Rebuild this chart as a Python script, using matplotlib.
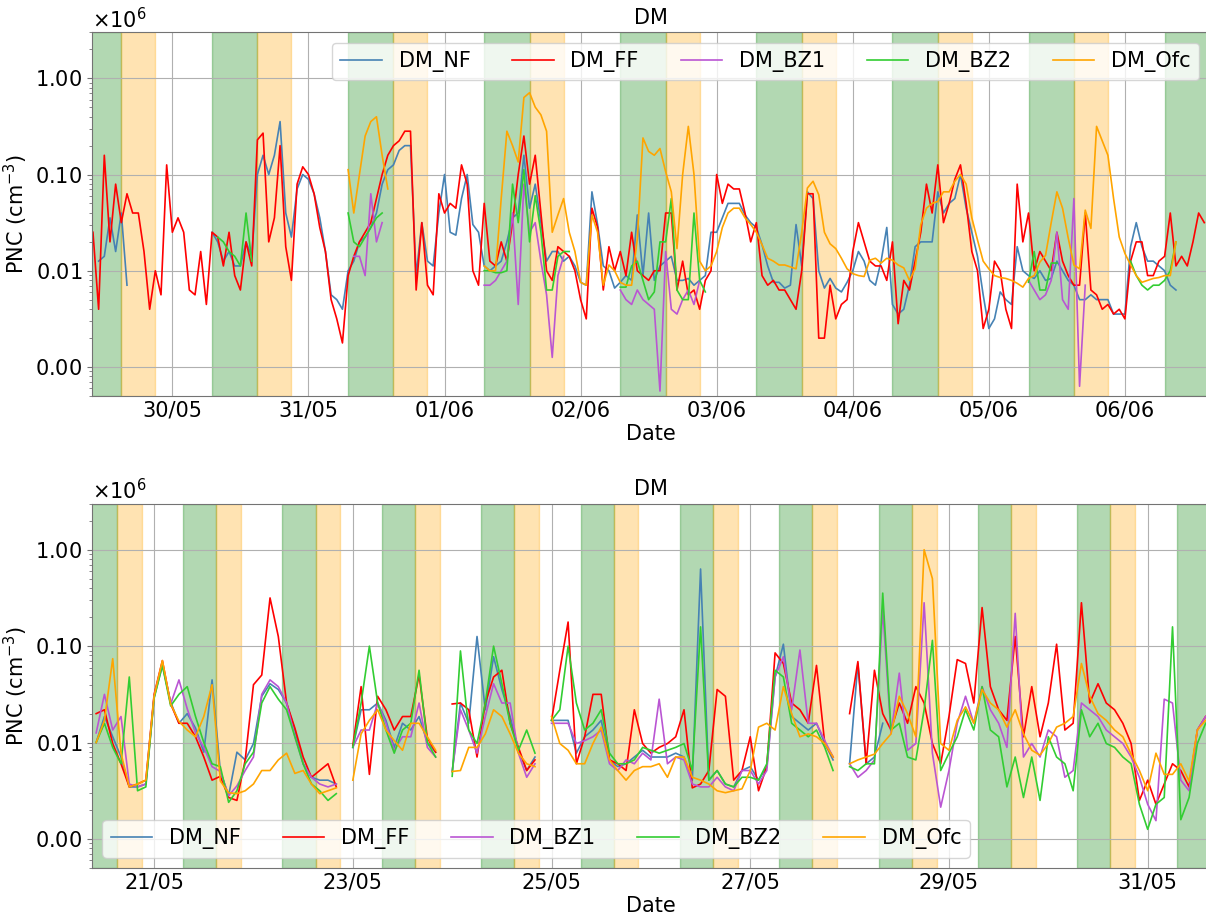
import numpy as np
import pandas as pd
import matplotlib
matplotlib.use("Agg")
import matplotlib.pyplot as plt
import matplotlib.dates as mdates
from matplotlib.ticker import ScalarFormatter

N = None

# ---- upper panel: hourly log10(PNC) from 29/05 10:00 to 06/06 14:00 ----
top_start, top_end = "2021-05-29 10:00", "2021-06-06 14:00"

top_ff = (
    [4.4, 3.6, 5.2, 4.3, 4.9, 4.5, 4.8, 4.6, 4.6, 4.2, 3.6, 4.0, 3.75, 5.1]
    + [4.4, 4.55, 4.4, 3.8, 3.75, 4.2, 3.65, 4.4, 4.35, 4.05, 4.4, 3.95,
       3.8, 4.3, 4.05, 5.36, 5.43, 4.3, 4.55, 5.3, 4.25, 3.9, 4.9, 5.08]
    + [5.0, 4.8, 4.45, 4.2, 3.7, 3.5, 3.25, 3.95, 4.15, 4.3, 4.4, 4.5,
       4.75, 5.0, 5.2, 5.3, 5.35, 5.45, 5.45, 3.8, 4.5, 3.85, 3.75, 4.8]
    + [4.6, 4.7, 4.65, 5.1, 4.9, 4.0, 3.85, 4.7, 4.1, 4.05, 4.3, 4.1,
       4.5, 5.0, 5.4, 4.9, 5.2, 4.6, 4.0, 3.9, 4.25, 4.2, 4.15, 4.0]
    + [3.7, 3.5, 4.65, 4.45, 3.8, 4.25, 4.0, 4.2, 3.95, 4.4, 4.0, 3.95,
       3.9, 4.0, 4.0, 4.6, 4.6, 3.8, 4.1, 3.75, 3.8, 3.6, 3.9, 4.0]
    + [5.0, 4.7, 4.9, 4.85, 4.85, 4.6, 4.3, 4.5, 3.95, 3.85, 3.9, 3.8,
       3.8, 3.7, 3.6, 4.0, 4.8, 4.8, 3.3, 3.3, 3.85, 3.5, 3.65, 3.7]
    + [4.2, 4.5, 4.3, 4.1, 4.05, 4.05, 3.9, 4.3, 3.45, 3.9, 3.8, 4.1,
       4.4, 4.9, 4.6, 5.1, 4.5, 4.7, 4.95, 5.1, 4.7, 4.2, 4.0, 3.4]
    + [3.6, 4.1, 4.0, 3.6, 3.4, 4.9, 4.3, 4.6, 4.0, 4.2, 4.1, 4.0,
       4.4, 4.1, 3.95, 3.85, 3.85, 4.6, 3.8, 3.75, 3.6, 3.65, 3.55, 3.6]
    + [3.5, 4.1, 4.3, 4.3, 3.95, 3.95, 4.1, 4.15, 4.6, 4.05, 4.15, 4.05, 4.3, 4.6, 4.5]
)

top_nf = (
    [N, 4.1, 4.15, 4.55, 4.2, 4.6, 3.85, N, N, N, N, N, N, N]
    + [N] * 7 + [4.4, 4.3, 4.1, 4.2, 4.05, 4.05, 4.3, 4.15, 5.0, 5.2, 5.0,
                 5.2, 5.55, 4.6, 4.35, 4.85, 5.0]
    + [4.95, 4.8, 4.55, 4.2, 3.75, 3.7, 3.6, 4.0, 4.1, 4.3, 4.35, 4.45,
       4.6, 4.9, 5.05, 5.1, 5.25, 5.3, 5.3, 3.95, 4.5, 4.1, 4.05, 4.6]
    + [5.0, 4.4, 4.37, 4.75, 5.0, 4.48, 4.4, 4.05, 4.0, 4.05, 4.1, 4.3,
       4.55, 4.6, 5.2, 4.65, 4.9, 4.5, 4.1, 4.2, 4.2, 4.1, 4.15, 4.05]
    + [3.88, 3.85, 4.82, 4.48, 4.05, 4.0, 3.82, 3.88, 3.95, 3.9, 4.58, 3.95,
       4.6, 3.9, 4.05, 4.1, 4.15, 3.9, 3.9, 3.92, 3.85, 3.9, 3.95, 4.4]
    + [4.4, 4.55, 4.7, 4.7, 4.7, 4.58, 4.5, 4.45, 4.27, 4.05, 3.88, 3.88,
       3.82, 3.85, 4.48, 4.05, 4.82, 4.75, 4.0, 3.82, 3.92, 3.82, 3.78, 3.88]
    + [4.0, 4.2, 4.1, 3.9, 3.85, 4.1, 4.45, 3.65, 3.55, 3.6, 3.85, 4.25,
       4.3, 4.3, 4.3, 4.82, 4.6, 4.7, 4.75, 5.0, 4.65, 4.4, 4.15, 3.75]
    + [3.4, 3.5, 3.78, 3.7, 3.65, 4.25, 4.0, 3.95, 3.92, 4.0, 3.9, 3.92,
       4.1, 4.0, 3.9, 3.85, 3.7, 3.7, 3.75, 3.7, 3.7, 3.7, 3.55, 3.55]
    + [3.55, 4.25, 4.5, 4.25, 4.1, 4.1, 4.05, 4.0, 3.85, 3.8, N, N, N, N, N]
)

top_bz1 = (
    [N] * 14 + [N] * 24
    + [N] * 8 + [4.15, 4.15, 3.95, 4.8, 4.3, 4.5] + [N] * 10
    + [N] * 7 + [3.85, 3.85, 3.9, 4.0, 4.1, 4.6, 3.65, 4.9, 4.4, 4.5, 4.1,
                 3.75, 3.1, 3.95, 4.15] + [N] * 2
    + [N] * 7 + [3.8, 3.7, 3.65, 3.8, 3.7, 3.65, 3.6, 2.75, 4.2, 3.6, 3.55,
                 3.7, 3.8, 3.65, 3.9] + [N] * 2
    + [N] * 24 + [N] * 24
    + [N] * 7 + [3.9, 3.8, 3.7, 3.75, 3.9, 4.4, 3.7, 3.6, 4.75, 2.8, 3.85] + [N] * 6
    + [N] * 15
)

top_bz2 = (
    [N] * 14
    + [N] * 8 + [4.35, 4.3, 4.2, 4.15, 4.05, 4.6, 4.1] + [N] * 9
    + [N] * 7 + [4.6, 4.3, 4.25, 4.35, 4.45, 4.55, 4.6] + [N] * 10
    + [N] * 7 + [4.0, 4.0, 3.98, 3.98, 4.0, 4.9, 4.5, 5.05, 4.3, 4.78, 4.4,
                 3.8, 3.8, 4.15, 4.2, 4.2, N]
    + [N] * 7 + [3.83, 3.83, 4.05, 4.1, 3.9, 3.7, 3.78, 4.3, 4.3, 4.75, 3.8,
                 3.7, 3.7, 4.6, 3.9, 3.78, N]
    + [N] * 24 + [N] * 24
    + [N] * 7 + [3.88, 4.2, 3.8, 3.8, 4.08, 4.08] + [N] * 11
    + [N, 4.1, 3.95, 3.85, 3.8, 3.85, 3.85, 3.9, 4.0, 4.3, N, N, N, N, N]
)

top_ofc = (
    [N] * 14 + [N] * 24
    + [N] * 7 + [5.05, 4.6, 5.0, 5.4, 5.55, 5.6, 5.2, 4.85] + [N] * 9
    + [N] * 7 + [4.05, 4.0, 4.0, 4.75, 5.45, 5.3, 5.13, 5.8, 5.85, 5.7, 5.62,
                 5.45, 4.4, 4.58, 4.75, 4.4, 4.2]
    + [3.88, 3.85, 4.58, 4.4, 3.85, 4.06, 4.0, 3.88, 3.85, 3.85, 4.33, 5.38,
       5.24, 5.2, 5.27, 5.03, 4.82, 4.23, 5.0, 5.5, 5.0, 4.1, 4.0, 4.05]
    + [4.2, 4.45, 4.6, 4.65, 4.65, 4.55, 4.48, 4.4, 4.27, 4.13, 4.1, 4.06,
       4.06, 4.04, 4.02, 4.4, 4.86, 4.93, 4.79, 4.4, 4.28, 4.23, 4.13, 4.02]
    + [3.97, 3.95, 3.94, 4.11, 4.13, 4.08, 4.13, 4.11, 4.06, 4.03, 3.9, 4.02,
       4.48, 4.65, 4.7, 4.72, 4.82, 4.82, 4.93, 5.0, 4.9, 4.55, 4.32, 4.1]
    + [4.02, 3.95, 3.93, 3.92, 3.9, 3.87, 3.83, 3.92, 3.95, 4.09, 4.16, 4.5,
       4.82, 4.65, 4.34, 4.06, 4.02, 4.63, 4.44, 5.5, 5.35, 5.2, 4.75, 4.35]
    + [4.18, 4.06, 3.95, 3.88, 3.9, 3.92, 3.93, 3.95, 3.95, 4.3, N, N, N, N, N]
)

# ---- lower panel: 2-hourly log10(PNC) from 20/05 10:00 to 31/05 14:00 ----
bot_start, bot_end = "2021-05-20 10:00", "2021-05-31 14:00"

bot_ff = (
    [4.3, 4.34, 3.99, 3.78, 3.54, 3.57, 3.61]
    + [4.5, 4.85, 4.4, 4.2, 4.2, 4.06, 3.85, 3.61, 3.65, 3.43, 3.4, 3.82]
    + [4.6, 4.7, 5.5, 5.1, 4.41, 4.15, 3.85, 3.64, 3.71, 3.78, 3.54, N]
    + [3.97, 4.58, 3.67, 4.48, 4.34, 4.13, 4.27, 4.27, 4.7, 4.05, 3.9, N]
    + [4.4, 4.41, 4.34, 3.85, 4.41, 4.68, 4.75, 4.2, 3.95, 3.71, 3.82, N]
    + [4.23, 4.75, 5.25, 3.78, 4.06, 4.5, 4.5, 3.82, 3.78, 3.71, 4.34, 3.99]
    + [3.89, 3.95, 3.99, 4.06, 4.34, 3.53, 3.57, 3.71, 4.55, 4.48, 3.61, 3.71]
    + [4.06, 3.5, 3.75, 4.93, 4.82, 4.41, 4.34, 4.2, 4.8, 3.99, 3.85, N]
    + [4.3, 4.84, 3.78, 4.75, 4.3, 4.13, 4.41, 4.2, 4.58, 4.41, 3.99, 3.78]
    + [4.27, 4.86, 4.82, 4.41, 5.4, 4.58, 4.34, 4.23, 5.1, 4.06, 4.58, 4.06]
    + [4.41, 5.02, 4.13, 4.2, 5.45, 4.41, 4.61, 4.41, 4.34, 4.2, 3.99, 3.4]
    + [3.61, 3.36, 3.57, 3.78, 3.71, 3.54, 4.13, 4.27]
)

bot_nf = (
    [4.0, 4.27, 4.06, 3.85, 3.54, 3.54, 3.57]
    + [4.47, 4.8, 4.42, 4.2, 4.3, 4.15, 3.9, 4.65, 3.7, 3.45, 3.9, 3.82]
    + [3.99, 4.48, 4.61, 4.55, 4.41, 4.13, 3.78, 3.64, 3.61, 3.61, 3.57, N]
    + [3.95, 4.34, 4.34, 4.41, 4.23, 3.95, 4.2, 4.13, 4.27, 4.0, 3.9, N]
    + [3.7, 4.41, 4.2, 5.1, 4.34, 4.89, 4.55, 4.27, 3.92, 3.71, 3.85, N]
    + [4.23, 4.23, 4.23, 3.89, 4.06, 4.13, 4.23, 3.82, 3.75, 3.78, 3.85, 3.92]
    + [3.85, 3.85, 3.85, 3.89, 3.85, 3.61, 5.8, 3.61, 3.71, 3.57, 3.54, 3.71]
    + [3.75, 3.61, 3.75, 4.68, 5.02, 4.27, 4.2, 4.13, 4.2, 3.99, 3.82, N]
    + [3.78, 4.82, 3.78, 3.85, 4.2, N, N, N, N, N, N, N]
    + [N] * 12 + [N] * 12 + [N] * 8
)

bot_bz1 = (
    [4.1, 4.5, 4.13, 4.27, 3.57, 3.54, 3.57]
    + [4.48, 4.82, 4.4, 4.65, 4.35, 4.1, 3.95, 3.75, 3.7, 3.45, 3.55, 3.71]
    + [3.85, 4.5, 4.65, 4.58, 4.41, 4.06, 3.78, 3.64, 3.57, 3.54, 3.57, N]
    + [3.95, 4.13, 4.13, 4.41, 4.2, 3.92, 4.06, 4.06, 4.41, 3.95, 3.85, N]
    + [3.7, 4.34, 4.13, 3.89, 4.27, 4.61, 4.41, 4.41, 3.89, 3.64, 3.78, N]
    + [4.2, 4.2, 4.2, 3.99, 4.02, 4.06, 4.13, 3.78, 3.71, 3.82, 3.78, 3.89]
    + [3.82, 4.45, 3.78, 3.85, 3.82, 3.57, 3.54, 3.54, 3.64, 3.54, 3.5, 3.71]
    + [3.71, 3.57, 3.71, 4.68, 4.89, 4.34, 4.96, 4.2, 4.2, 4.02, 3.85, N]
    + [3.78, 3.64, 3.71, 3.82, 5.38, 4.09, 4.72, 3.92, 3.99, 5.45, 3.89, 3.33]
    + [3.71, 4.2, 4.48, 4.2, 4.58, 4.34, 4.2, 3.95, 5.34, 3.85, 3.99, 3.85]
    + [4.13, 4.06, 3.64, 3.71, 4.41, 4.34, 4.27, 4.13, 4.06, 3.99, 3.85, 3.64]
    + [3.36, 3.19, 4.45, 4.41, 3.61, 3.5, 4.13, 4.27]
)

bot_bz2 = (
    [4.0, 4.2, 3.95, 3.78, 4.68, 3.5, 3.54]
    + [4.46, 4.8, 4.38, 4.5, 4.58, 4.27, 4.0, 3.78, 3.75, 3.38, 3.5, 3.78]
    + [3.9, 4.41, 4.58, 4.45, 4.34, 4.06, 3.78, 3.57, 3.5, 3.4, 3.47, N]
    + [3.95, 4.41, 5.0, 4.41, 4.13, 3.89, 4.13, 4.2, 4.75, 4.0, 3.85, N]
    + [3.65, 4.95, 4.13, 3.99, 4.41, 5.0, 4.61, 4.2, 3.92, 4.13, 3.89, N]
    + [4.23, 4.34, 5.0, 4.41, 4.13, 4.2, 4.34, 3.89, 3.78, 3.78, 3.82, 3.95]
    + [3.92, 3.89, 3.92, 3.95, 3.99, 3.71, 5.2, 3.61, 3.71, 3.57, 3.54, 3.64]
    + [3.64, 3.61, 3.78, 4.75, 4.68, 4.2, 4.13, 4.06, 4.13, 3.95, 3.71, N]
    + [3.75, 3.71, 3.78, 3.78, 5.55, 4.13, 4.2, 3.85, 3.82, 4.34, 5.06, 3.71]
    + [3.89, 4.06, 4.34, 4.13, 4.58, 4.13, 4.06, 3.54, 3.85, 3.43, 3.85, 3.4]
    + [4.06, 3.85, 3.78, 3.5, 4.34, 4.06, 4.2, 3.99, 3.95, 3.85, 3.78, 3.36]
    + [3.1, 3.36, 3.43, 5.2, 3.2, 3.43, 3.99, 4.2]
)

bot_ofc = (
    [4.0, 4.23, 4.87, 3.89, 3.54, 3.57, 3.61]
    + [4.48, 4.85, 4.4, 4.22, 4.13, 4.06, 4.27, 4.6, 3.6, 3.48, 3.47, 3.5]
    + [3.57, 3.71, 3.71, 3.82, 3.89, 3.68, 3.71, 3.57, 3.47, 3.5, 3.53, N]
    + [3.61, 4.09, 4.23, 4.34, 4.13, 4.02, 3.92, 4.2, 4.2, 4.06, 3.92, N]
    + [3.7, 3.71, 3.95, 3.95, 4.09, 4.34, 4.27, 4.09, 3.89, 3.78, 3.75, N]
    + [4.27, 3.99, 3.92, 3.78, 3.78, 3.99, 4.16, 3.82, 3.71, 3.61, 3.71, 3.75]
    + [3.75, 3.78, 3.64, 3.85, 3.85, 3.64, 3.61, 3.57, 3.5, 3.48, 3.5, 3.52]
    + [3.71, 4.16, 4.2, 4.13, 4.58, 4.3, 4.06, 4.09, 4.06, 3.99, 3.85, N]
    + [3.78, 3.82, 3.85, 3.88, 3.99, 4.09, 4.48, 4.3, 4.06, 6.0, 5.7, 3.99]
    + [3.92, 4.23, 4.37, 4.2, 4.55, 4.41, 4.34, 4.16, 4.34, 4.09, 3.92, 3.87]
    + [3.99, 4.16, 4.2, 4.27, 4.82, 4.48, 4.3, 4.23, 4.13, 4.06, 3.88, 3.71]
    + [3.5, 3.89, 3.67, 3.67, 3.78, 3.6, 4.13, 4.23]
)

names = ["DM_NF", "DM_FF", "DM_BZ1", "DM_BZ2", "DM_Ofc"]
colors = ["steelblue", "red", "mediumorchid", "limegreen", "orange"]

plt.rcParams["font.size"] = 15
plt.rcParams["axes.titlesize"] = 15

fig = plt.figure(figsize=(12.06, 9.16), dpi=100)
ax1 = fig.add_axes([0.0763, 0.5677, 0.9266, 0.3970])
ax2 = fig.add_axes([0.0763, 0.0524, 0.9266, 0.3977])


def draw_panel(ax, t, series, first_day, last_day, xlim, locator, loc):
    # working hours (green) and evening (orange) shading
    for d in pd.date_range(first_day, last_day, freq="D"):
        ax.axvspan(d + pd.Timedelta(hours=7), d + pd.Timedelta(hours=15),
                   color="green", alpha=0.3)
        ax.axvspan(d + pd.Timedelta(hours=15), d + pd.Timedelta(hours=21),
                   color="orange", alpha=0.3)
    for name, vals, c in zip(names, series, colors):
        y = 10 ** np.array(vals, dtype=float)
        ax.plot(t, y, color=c, lw=1.2, label=name)
    ax.set_yscale("log")
    ax.set_ylim(500, 3e6)
    ax.yaxis.set_major_formatter(ScalarFormatter(useMathText=True))
    ax.set_xlim(pd.Timestamp(xlim[0]), pd.Timestamp(xlim[1]))
    ax.xaxis.set_major_locator(locator)
    ax.xaxis.set_major_formatter(mdates.DateFormatter("%d/%m"))
    ax.grid(True)
    ax.set_title("DM")
    ax.set_xlabel("Date", labelpad=2)
    ax.set_ylabel("PNC (cm$^{-3}$)")
    for s in ax.spines.values():
        s.set_color("0.45")
    ax.tick_params(axis="y", which="both", color="0.45")
    ax.tick_params(axis="x", length=0)
    ax.legend(loc=loc, ncol=5, fontsize=15)


t_top = pd.date_range(top_start, top_end, freq="h")
t_bot = pd.date_range(bot_start, bot_end, freq="2h")

draw_panel(ax1, t_top, [top_nf, top_ff, top_bz1, top_bz2, top_ofc],
           "2021-05-29", "2021-06-06",
           ("2021-05-29 09:50", "2021-06-06 14:55"),
           mdates.DayLocator(), "upper right")
draw_panel(ax2, t_bot, [bot_nf, bot_ff, bot_bz1, bot_bz2, bot_ofc],
           "2021-05-20", "2021-05-31",
           ("2021-05-20 09:00", "2021-05-31 14:56"),
           mdates.DayLocator(bymonthday=range(1, 32, 2)), "lower left")

fig.savefig("out.png", dpi=100)
